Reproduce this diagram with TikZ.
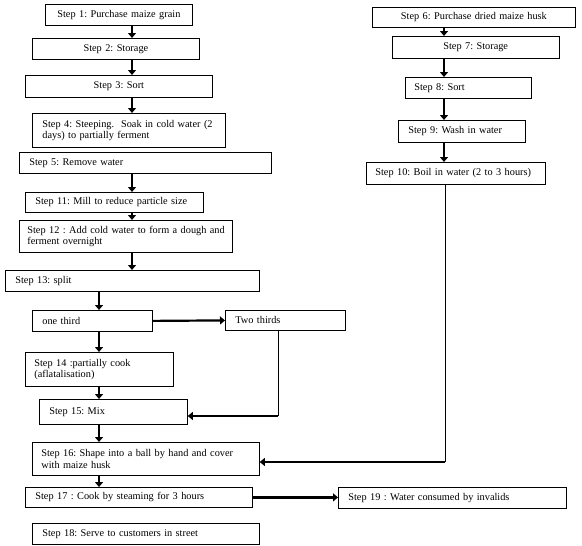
\documentclass[tikz,border=0pt]{standalone}
\usepackage{fontspec}
\setmainfont{Liberation Serif}
\usetikzlibrary{arrows.meta}
\newcommand\stepfont{\fontsize{10.3}{11.5}\selectfont\frenchspacing}
\newcommand\ml[1]{\mbox{#1}}
\begin{document}
\begin{tikzpicture}[x=1pt,y=-1pt,
  stepbox/.style={draw, line width=0.8pt, inner ysep=1pt, anchor=north west, font=\stepfont, align=left},
  cbox/.style={stepbox, align=center, inner xsep=2pt},
  flow/.style={line width=2.2pt, -{Triangle[length=5pt,width=8pt]}},
  thin/.style={line width=0.9pt}]
\useasboundingbox (0,0) rectangle (582,546);
\coordinate (cA) at (132,0);
\coordinate (cB) at (99,0);
\coordinate (cC) at (444,0);
\coordinate (cD) at (278,0);
% left column
\node[cbox, minimum height=21, text width=143] (s1) at (45,4) {\ml{Step 1: Purchase maize grain}};
\node[cbox, minimum height=21, text width=163] (s2) at (32,38) {Step 2: Storage};
\node[cbox, minimum height=22, text width=183] (s3) at (25,75) {Step 3: Sort};
\node[stepbox, minimum height=34, inner xsep=10, text width=173] (s4) at (32,113) {\ml{Step 4: Steeping.\ \ Soak in cold water (2}\\\ml{days) to partially ferment}};
\node[stepbox, minimum height=21, inner xsep=10, text width=232] (s5) at (19,152) {\ml{Step 5: Remove water}};
\node[stepbox, minimum height=20, inner xsep=10, text width=158] (s11) at (25,192) {\ml{Step 11: Mill to reduce particle size}};
\node[stepbox, minimum height=32, inner xsep=8, text width=197] (s12) at (19,220) {\ml{Step 12 : Add cold water to form a dough and}\\\ml{ferment overnight}};
\node[stepbox, minimum height=21, inner xsep=10, text width=234] (s13) at (5,270) {\ml{Step 13: split}};
\node[stepbox, minimum height=21, inner xsep=10, text width=100] (one) at (32,310) {\ml{one third}};
\node[stepbox, minimum height=20, inner xsep=10, text width=100] (two) at (225,310) {\ml{Two thirds}};
\node[stepbox, minimum height=34, inner xsep=9, text width=130] (s14) at (25,352) {\ml{Step 14 :partially cook}\\\ml{(aflatalisation)}};
\node[stepbox, minimum height=25, inner xsep=10, text width=128] (s15) at (39,399) {\ml{Step 15: Mix}};
\node[stepbox, minimum height=33, inner xsep=9, text width=209] (s16) at (32,442) {\ml{Step 16: Shape into a ball by hand and cover}\\\ml{with maize husk}};
\node[stepbox, minimum height=20, inner xsep=10, text width=207] (s17) at (25,487) {\ml{Step 17 : Cook by steaming for 3 hours}};
\node[stepbox, minimum height=21, inner xsep=10, text width=207] (s18) at (32,523) {\ml{Step 18: Serve to customers in street}};
\node[stepbox, minimum height=21, inner xsep=10, text width=208] (s19) at (338,487) {\ml{Step 19 : Water consumed by invalids}};
% right column
\node[cbox, minimum height=20, text width=199] (s6) at (372,7) {\ml{Step 6: Purchase dried maize husk}};
\node[stepbox, minimum height=22, inner xsep=51, text width=65] (s7) at (392,36) {\ml{Step 7: Storage}};
\node[stepbox, minimum height=21, inner xsep=9, text width=108] (s8) at (405,77) {\ml{Step 8: Sort}};
\node[stepbox, minimum height=22, inner xsep=10, text width=107] (s9) at (398,120) {\ml{Step 9: Wash in water}};
\node[stepbox, minimum height=22, inner xsep=9, text width=161] (s10) at (366,162) {\ml{Step 10: Boil in water (2 to 3 hours)}};
% connectors left
\draw[flow] (s1.south -| cA) -- (s2.north -| cA);
\draw[flow] (s2.south -| cA) -- (s3.north -| cA);
\draw[flow] (s3.south -| cA) -- (s4.north -| cA);
\draw[flow] (s5.south -| cA) -- (s11.north -| cA);
\draw[flow] (s11.south -| cA) -- (s12.north -| cA);
\draw[flow] (s12.south -| cA) -- (s13.north -| cA);
\draw[flow] (s13.south -| cB) -- (one.north -| cB);
\draw[flow] (one.south -| cB) -- (s14.north -| cB);
\draw[flow] (s14.south -| cB) -- (s15.north -| cB);
\draw[flow] (s15.south -| cB) -- (s16.north -| cB);
\draw[flow] (s16.south -| cB) -- (s17.north -| cB);
\draw[flow] (one.east) -- (two.west);
\draw[flow] (s17.east) -- (s17.east -| s19.west);
\coordinate (k1) at (278,416);
\draw[thin] (two.south -| cD) -- (k1);
\draw[flow] (k1) -- (k1 -| s15.east);
% connectors right
\draw[flow] (s6.south -| cC) -- (s7.north -| cC);
\draw[flow] (s7.south -| cC) -- (s8.north -| cC);
\draw[flow] (s8.south -| cC) -- (s9.north -| cC);
\draw[flow] (s9.south -| cC) -- (s10.north -| cC);
\coordinate (k2) at (445,462);
\draw[thin] (s10.south -| k2) -- (k2);
\draw[flow] (k2) -- (k2 -| s16.east);
\end{tikzpicture}
\end{document}
